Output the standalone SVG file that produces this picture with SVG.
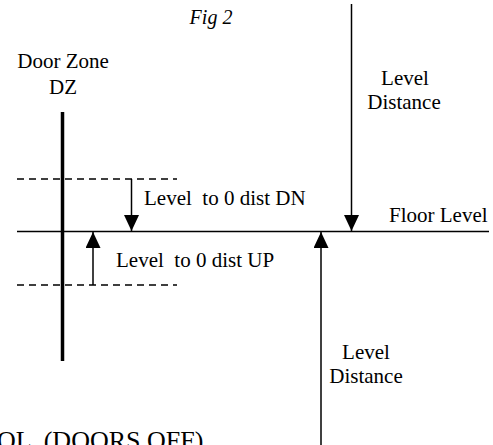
<svg xmlns="http://www.w3.org/2000/svg" width="493" height="445" viewBox="0 0 493 445">
<style>
  text { font-family: 'Liberation Serif', 'Times New Roman', Times, serif; font-size: 21px; fill: #000; white-space: pre; }
  .it { font-style: italic; font-size: 20px; }
  .mid { text-anchor: middle; }
  .ln { stroke: #000; stroke-width: 1.5; fill: none; }
  .dash { stroke: #000; stroke-width: 1.5; stroke-dasharray: 7 5; fill: none; }
  .arr { stroke: #000; stroke-width: 1.5; fill: none; marker-end: url(#ah); }
</style>
<defs>
  <marker id="ah" markerUnits="userSpaceOnUse" markerWidth="16" markerHeight="15" refX="16" refY="7.5" orient="auto">
    <path d="M0,0 L16,7.5 L0,15 Z" fill="#000"/>
  </marker>
</defs>
<rect width="493" height="445" fill="#fff"/>
<g id="title"><text class="it mid" x="211" y="24">Fig 2</text></g>
<g id="door-zone">
  <text class="mid" x="63" y="68">Door Zone</text>
  <text class="mid" x="63" y="94">DZ</text>
  <line x1="62.5" y1="112" x2="62.5" y2="361" stroke="#000" stroke-width="3.5"/>
</g>
<g id="floor-level">
  <line class="ln" x1="17" y1="231.5" x2="489" y2="231.5"/>
  <text x="389" y="222">Floor Level</text>
</g>
<g id="dn-zone">
  <line class="dash" x1="17" y1="179" x2="177" y2="179"/>
  <text x="144" y="205">Level  to 0 dist DN</text>
</g>
<g id="up-zone">
  <line class="dash" x1="17" y1="285" x2="177" y2="285"/>
  <text x="116" y="267">Level  to 0 dist UP</text>
</g>
<g id="level-distance-top">
  <text class="mid" x="405" y="85">Level</text>
  <text class="mid" x="404" y="109">Distance</text>
</g>
<g id="level-distance-bottom">
  <text class="mid" x="366" y="359">Level</text>
  <text class="mid" x="366" y="383">Distance</text>
</g>
<g id="connectors">
  <line class="arr" x1="131.5" y1="179" x2="131.5" y2="231"/>
  <line class="arr" x1="93" y1="285" x2="93" y2="232"/>
  <line class="arr" x1="351.5" y1="4" x2="351.5" y2="231"/>
  <line class="arr" x1="321" y1="445" x2="321" y2="232"/>
</g>
<g id="footer"><text x="-3" y="449" style="font-size:26px">OL  (DOORS OFF)</text></g>
</svg>
